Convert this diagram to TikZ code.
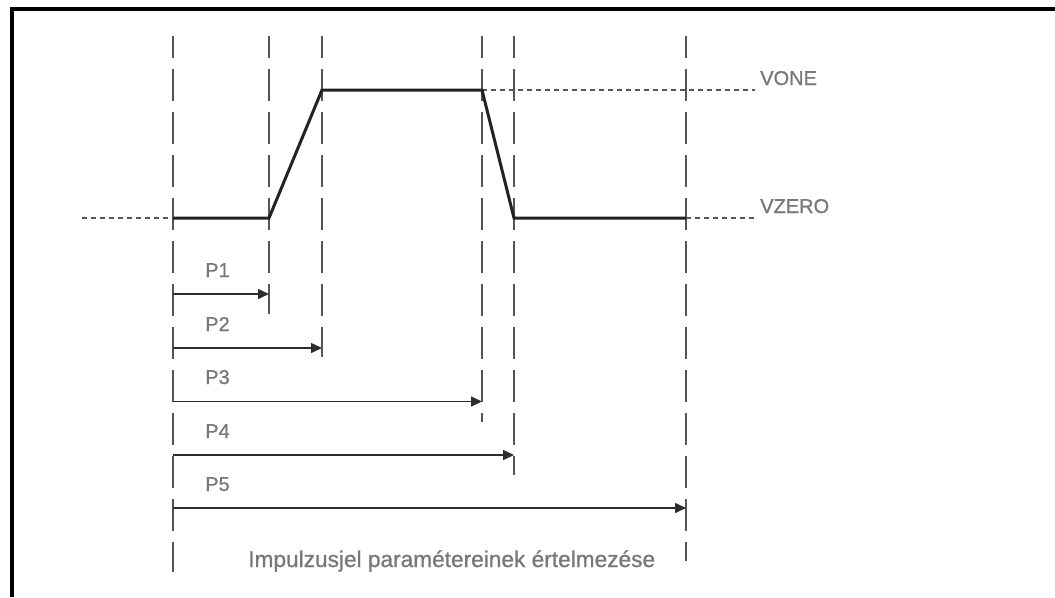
\documentclass[tikz,border=0pt]{standalone}
\usepackage{fontspec}
\setmainfont{Liberation Sans}
\newfontfamily\lblfont{Liberation Sans}[FakeBold=0.9]
\usetikzlibrary{arrows.meta}
\definecolor{txtgray}{RGB}{120,120,120}
\definecolor{linegray}{RGB}{85,85,85}
\definecolor{pulsecol}{RGB}{34,34,34}
\definecolor{arrcol}{RGB}{45,45,45}
\tikzset{
  vguide/.style={draw=linegray, line width=1pt, dash pattern=on 24pt off 8.25pt, dash phase=7.5pt},
  hguide/.style={draw=linegray, line width=0.9pt, dash pattern=on 3.75pt off 3pt},
  pulse/.style={draw=pulsecol, line width=2.25pt, line join=miter},
  parrow/.style={draw=arrcol, line width=1.1pt, -{Triangle[length=8.25pt,width=7.5pt]}},
  lbl/.style={text=txtgray, inner sep=0pt, font=\lblfont\fontsize{15}{18}\selectfont},
  frame/.style={draw=black, line width=3pt}
}
\begin{document}
\begin{tikzpicture}[x=0.75pt, y=-0.75pt]
\useasboundingbox (0,0) rectangle (1055,597);
\fill[white] (0,0) rectangle (1055,597);
% frame
\draw[frame] (11.5,597) -- (11.5,8.7) -- (1055,8.7);
% time marks (top and bottom of guide lines)
\coordinate (t0top) at (173,36);  \coordinate (t0bot) at (173,572);
\coordinate (t1top) at (269,36);  \coordinate (t1bot) at (269,314);
\coordinate (t2top) at (322,36);  \coordinate (t2bot) at (322,357);
\coordinate (t3top) at (482,36);  \coordinate (t3bot) at (482,422);
\coordinate (t4top) at (514,36);  \coordinate (t4bot) at (514,475);
\coordinate (t5top) at (686,36);  \coordinate (t5bot) at (686,561);
\foreach \i in {0,...,5} \draw[vguide] (t\i top) -- (t\i bot);
% pulse corners
\coordinate (z0) at (173,218);
\coordinate (z1) at (269,218);
\coordinate (o1) at (322,90);
\coordinate (o2) at (482,90);
\coordinate (z2) at (514,218);
\coordinate (z3) at (686,218);
\coordinate (lz) at (82,218);
\coordinate (ro) at (755,90);
\coordinate (rz) at (755,218);
\draw[hguide] (lz) -- (z0);
\draw[hguide] (o2) -- (ro);
\draw[hguide] (z3) -- (rz);
\draw[pulse] (z0) -- (z1) -- (o1) -- (o2) -- (z2) -- (z3);
% level labels
\node[lbl, anchor=base west] (vone) at (760,85) {VONE};
\node[lbl, anchor=base west] (vzero) at (760,213) {VZERO};
% parameter arrows
\foreach \i/\x/\yl/\ya in {1/269/277/294, 2/322/331/348, 3/482/384/401.5, 4/514/438/455, 5/686/491/508}{
  \node[lbl, anchor=base west] (p\i) at (205,\yl) {P\i};
  \coordinate (a\i s) at (173,\ya);
  \coordinate (a\i e) at (\x,\ya);
  \draw[parrow] (a\i s) -- (a\i e);
}
% caption
\node[text=txtgray, inner sep=0pt, anchor=base west, font=\lblfont\fontsize{17}{20}\selectfont] (cap) at (248,567) {Impulzusjel paramétereinek értelmezése};
\end{tikzpicture}
\end{document}
